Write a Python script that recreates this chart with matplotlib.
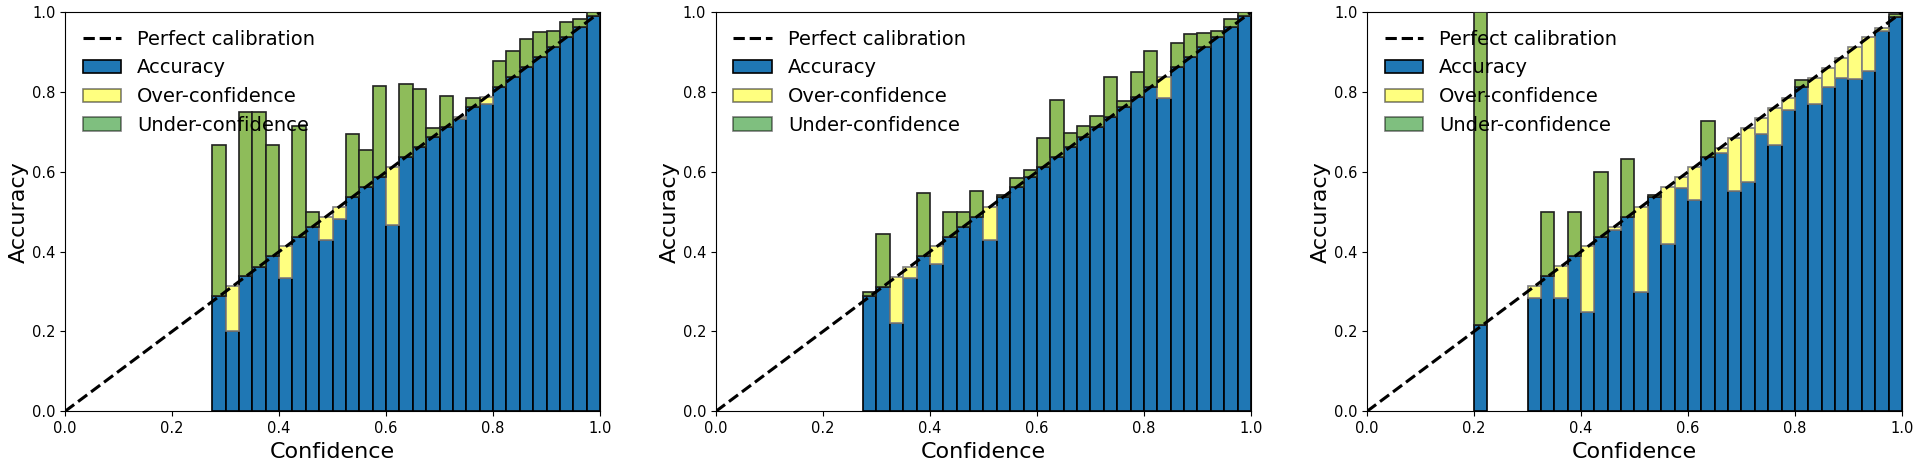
import numpy as np
import matplotlib
matplotlib.use("Agg")
import matplotlib.pyplot as plt
from matplotlib.patches import Patch
from matplotlib.lines import Line2D

# 40 equal-width confidence bins, bin index i covers [i/40, (i+1)/40)
n_bins = 40

# Panel 1
p1_bins = list(range(11, 40))
p1_conf = [0.290, 0.313, 0.338, 0.362, 0.388, 0.413, 0.437, 0.462, 0.488, 0.511,
           0.537, 0.562, 0.587, 0.612, 0.637, 0.662, 0.687, 0.712, 0.737, 0.762,
           0.787, 0.812, 0.837, 0.862, 0.887, 0.912, 0.937, 0.962, 0.990]
p1_acc = [0.667, 0.200, 0.750, 0.750, 0.667, 0.333, 0.715, 0.500, 0.428, 0.482,
          0.696, 0.656, 0.816, 0.468, 0.821, 0.808, 0.711, 0.790, 0.733, 0.784,
          0.769, 0.879, 0.904, 0.932, 0.950, 0.952, 0.975, 0.982, 1.000]

# Panel 2
p2_bins = list(range(11, 40))
p2_conf = [0.288, 0.312, 0.336, 0.361, 0.388, 0.413, 0.437, 0.462, 0.487, 0.511,
           0.537, 0.562, 0.587, 0.612, 0.637, 0.662, 0.687, 0.712, 0.737, 0.762,
           0.787, 0.812, 0.837, 0.862, 0.887, 0.912, 0.937, 0.962, 0.990]
p2_acc = [0.300, 0.444, 0.222, 0.333, 0.546, 0.369, 0.500, 0.500, 0.553, 0.429,
          0.543, 0.585, 0.604, 0.685, 0.780, 0.697, 0.715, 0.739, 0.838, 0.778,
          0.850, 0.903, 0.786, 0.922, 0.946, 0.948, 0.953, 0.983, 1.000]

# Panel 3
p3_bins = [8] + list(range(12, 40))
p3_conf = [0.215, 0.313, 0.338, 0.363, 0.388, 0.413, 0.437, 0.463, 0.487, 0.512,
           0.537, 0.561, 0.586, 0.611, 0.637, 0.660, 0.686, 0.711, 0.736, 0.761,
           0.786, 0.812, 0.835, 0.861, 0.886, 0.912, 0.937, 0.961, 0.988]
p3_acc = [1.000, 0.285, 0.500, 0.285, 0.500, 0.250, 0.600, 0.455, 0.631, 0.300,
          0.542, 0.419, 0.559, 0.530, 0.727, 0.647, 0.553, 0.575, 0.695, 0.667,
          0.756, 0.830, 0.769, 0.813, 0.836, 0.833, 0.853, 0.954, 0.995]

panels = [(p1_bins, p1_conf, p1_acc), (p2_bins, p2_conf, p2_acc), (p3_bins, p3_conf, p3_acc)]

tick_vals = [0.0, 0.2, 0.4, 0.6, 0.8, 1.0]
tick_labels = ["0.0", "0.2", "0.4", "0.6", "0.8", "1.0"]

fig = plt.figure(figsize=(19.2, 4.68), dpi=100)
lefts = [0.0339, 0.3729, 0.7120]
width = 0.2786
bottom = 0.1212
height = 0.8526

blue = "#1f77b4"
over_col = "#ffff80"
under_col = "#8ebc5a"
for left, (bins, conf, acc) in zip(lefts, panels):
    ax = fig.add_axes([left, bottom, width, height])
    bins = np.array(bins)
    conf = np.array(conf)
    acc = np.array(acc)
    w = 1.0 / n_bins
    x = bins * w
    ax.plot([0, 1], [0, 1], "--", color="black", lw=2.2, zorder=5)
    base = np.minimum(acc, conf)
    ax.bar(x, base, width=w, align="edge", color=blue, edgecolor="black", lw=1.2, zorder=2)
    gap_h = np.abs(acc - conf)
    over = acc <= conf
    under = acc > conf
    ax.bar(x[over], gap_h[over], bottom=base[over], width=w, align="edge",
           color=over_col, edgecolor="#7f7f7f", lw=1.2, zorder=3)
    ax.bar(x[under], gap_h[under], bottom=base[under], width=w, align="edge",
           color=under_col, edgecolor="#202020", lw=1.2, zorder=4)
    ax.set_xlim(0, 1)
    ax.set_ylim(0, 1)
    ax.set_xticks(tick_vals)
    ax.set_xticklabels(tick_labels)
    ax.set_yticks(tick_vals)
    ax.set_yticklabels(tick_labels)
    ax.tick_params(labelsize=10.5)
    ax.set_xlabel("Confidence", fontsize=16, labelpad=4)
    ax.set_ylabel("Accuracy", fontsize=16, labelpad=2)
    handles = [
        Line2D([0], [0], ls="--", color="black", lw=2.2),
        Patch(facecolor=blue, edgecolor="black", lw=1.2),
        Patch(facecolor="yellow", edgecolor="black", alpha=0.5, lw=1.2),
        Patch(facecolor="green", edgecolor="black", alpha=0.5, lw=1.2),
    ]
    labels = ["Perfect calibration", "Accuracy", "Over-confidence", "Under-confidence"]
    ax.legend(handles, labels, loc="upper left", frameon=False, fontsize=14)

fig.savefig("out.png", dpi=100)
